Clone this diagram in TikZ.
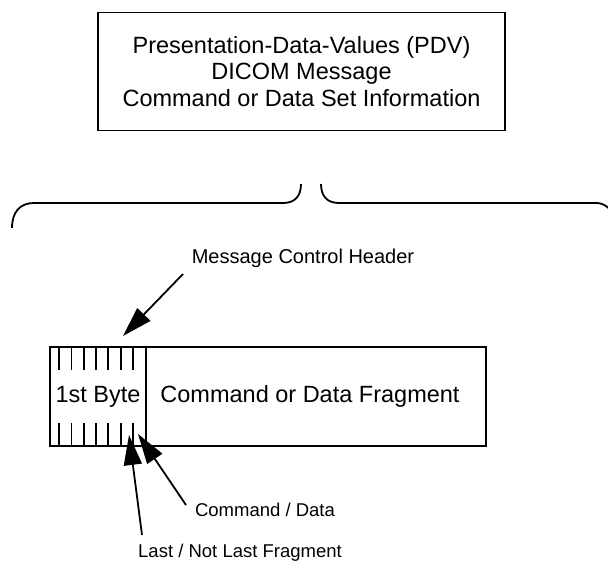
\documentclass[tikz,border=0pt]{standalone}
\usepackage{fontspec}
\setmainfont{Liberation Sans}
\usetikzlibrary{arrows.meta}

\tikzset{
  box/.style={draw, line width=1.8pt, inner sep=0pt, font=\fontsize{23.5}{26.5}\selectfont},
  lbl/.style={inner sep=0pt, font=\fontsize{18.5}{22}\selectfont},
  pointer/.style={line width=1.8pt, -{Triangle[length=30pt,width=18pt]}},
  tick/.style={line width=1.8pt}
}

\begin{document}
\begin{tikzpicture}[x=1pt,y=-1pt]
\useasboundingbox (0,0) rectangle (608,570);

\node[box, minimum width=407pt, minimum height=118pt, align=center] (pdv) at (301.5,71.5)
  {Presentation-Data-Values (PDV)\\DICOM Message\\Command or Data Set Information};

% brace
\draw[line width=1.8pt] (12,228) .. controls (12,212) and (20,203) .. (34,203) -- (283,203)
  .. controls (295,203) and (301,196) .. (301,184);
\draw[line width=1.8pt] (321,184) .. controls (321,196) and (327,203) .. (339,203) -- (596,203)
  .. controls (604,203) and (608,207) .. (612,212);

\node[box, minimum width=96pt, minimum height=99pt] (byte) at (98,396.5) {1st Byte};
\node[box, minimum width=340pt, minimum height=99pt] (frag) at (316,396.5) {};
\node[inner sep=0pt, font=\fontsize{23.5}{26.5}\selectfont] (fragtxt) at (310,396.5) {Command or Data Fragment};
\foreach \i in {0,...,6} {
  \draw[tick] ([xshift=10pt+\i*12.3pt]byte.north west) -- ++(0,24);
  \draw[tick] ([xshift=10pt+\i*12.3pt]byte.south west) -- ++(0,-24);
}

\node[lbl, font=\fontsize{20}{24}\selectfont] (mch) at (303,258) {Message Control Header};
\node[lbl] (cd) at (265,510) {Command / Data};
\node[lbl] (last) at (240,553) {Last / Not Last Fragment};

\coordinate (mchtip) at (123,336);
\coordinate (cdtip) at (138,434);
\coordinate (lasttip) at (129,435);
\draw[pointer] (183,274) -- (mchtip);
\draw[pointer] (186,505) -- (cdtip);
\draw[pointer] (142,535) -- (lasttip);
\end{tikzpicture}
\end{document}
